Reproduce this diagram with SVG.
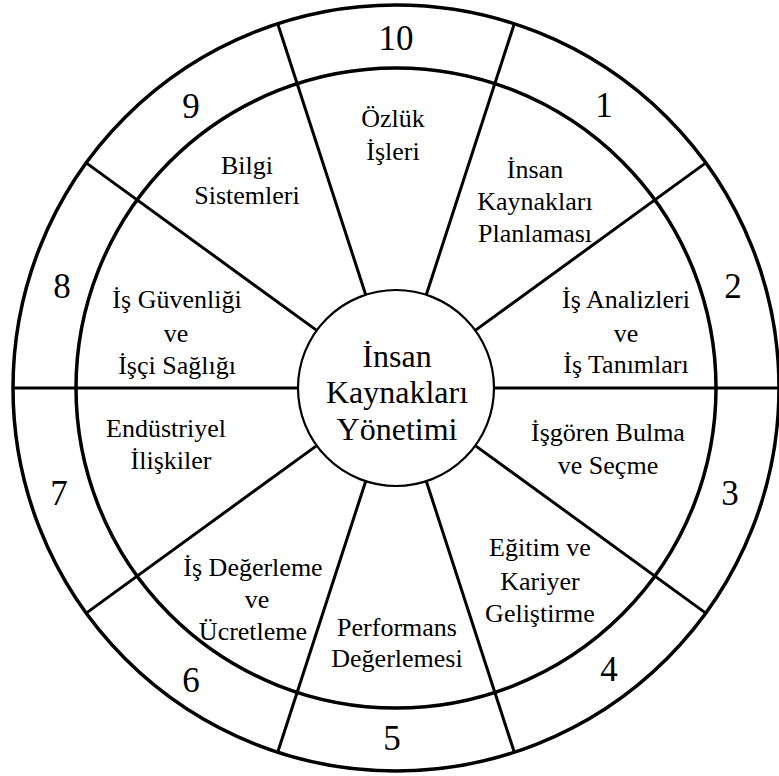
<svg xmlns="http://www.w3.org/2000/svg" width="779" height="776" viewBox="0 0 779 776">
<style>
.ring{fill:none;stroke:#000;stroke-width:3.5}
.hub{fill:#fff;stroke:#000;stroke-width:2.2}
.ln{stroke:#000;stroke-width:3;stroke-linecap:butt}
text{font-family:"Liberation Serif","DejaVu Serif",serif;fill:#000;text-anchor:middle}
.num{font-size:35px}
.lab{font-size:26px}
.ctr{font-size:32px}
</style>
<rect width="779" height="776" fill="#fff"/>
<g id="rings">
<circle class="ring" cx="396" cy="388" r="383"/>
<circle class="ring" cx="396" cy="388" r="320"/>
</g>
<g id="connectors">
<line class="ln" x1="494" y1="388" x2="779" y2="388"/>
<line class="ln" x1="298" y1="388" x2="13" y2="388"/>
<line class="ln" x1="475.3" y1="330.4" x2="705.8" y2="162.9"/>
<line class="ln" x1="316.7" y1="445.6" x2="86.2" y2="613.1"/>
<line class="ln" x1="426.3" y1="294.8" x2="514.3" y2="23.7"/>
<line class="ln" x1="365.7" y1="481.2" x2="277.7" y2="752.3"/>
<line class="ln" x1="365.7" y1="294.8" x2="277.7" y2="23.7"/>
<line class="ln" x1="426.3" y1="481.2" x2="514.3" y2="752.3"/>
<line class="ln" x1="316.7" y1="330.4" x2="86.2" y2="162.9"/>
<line class="ln" x1="475.3" y1="445.6" x2="705.8" y2="613.1"/>
</g>
<g id="center">
<circle class="hub" cx="396" cy="388" r="98"/>
<text class="ctr" x="397" y="367">İnsan</text>
<text class="ctr" x="397" y="403">Kaynakları</text>
<text class="ctr" x="397" y="440">Yönetimi</text>
</g>
<g id="s1">
<text class="num" x="604" y="117">1</text>
<text class="lab" x="535" y="178">İnsan</text>
<text class="lab" x="535" y="210">Kaynakları</text>
<text class="lab" x="535" y="242">Planlaması</text>
</g>
<g id="s2">
<text class="num" x="733" y="298">2</text>
<text class="lab" x="626" y="308">İş Analizleri</text>
<text class="lab" x="626" y="342">ve</text>
<text class="lab" x="626" y="373">İş Tanımları</text>
</g>
<g id="s3">
<text class="num" x="730" y="505">3</text>
<text class="lab" x="608" y="441">İşgören Bulma</text>
<text class="lab" x="608" y="474">ve Seçme</text>
</g>
<g id="s4">
<text class="num" x="609" y="681">4</text>
<text class="lab" x="540" y="556">Eğitim ve</text>
<text class="lab" x="540" y="590">Kariyer</text>
<text class="lab" x="540" y="622">Geliştirme</text>
</g>
<g id="s5">
<text class="num" x="392" y="750">5</text>
<text class="lab" x="397" y="636">Performans</text>
<text class="lab" x="397" y="667">Değerlemesi</text>
</g>
<g id="s6">
<text class="num" x="191" y="692">6</text>
<text class="lab" x="253" y="576">İş Değerleme</text>
<text class="lab" x="257" y="608">ve</text>
<text class="lab" x="253" y="640">Ücretleme</text>
</g>
<g id="s7">
<text class="num" x="59" y="505">7</text>
<text class="lab" x="166" y="437">Endüstriyel</text>
<text class="lab" x="171" y="469">İlişkiler</text>
</g>
<g id="s8">
<text class="num" x="62" y="298">8</text>
<text class="lab" x="177" y="308">İş Güvenliği</text>
<text class="lab" x="176" y="342">ve</text>
<text class="lab" x="177" y="374">İşçi Sağlığı</text>
</g>
<g id="s9">
<text class="num" x="191" y="118">9</text>
<text class="lab" x="247" y="174">Bilgi</text>
<text class="lab" x="247" y="204">Sistemleri</text>
</g>
<g id="s10">
<text class="num" x="396" y="50">10</text>
<text class="lab" x="393" y="127">Özlük</text>
<text class="lab" x="393" y="160">İşleri</text>
</g>
</svg>
